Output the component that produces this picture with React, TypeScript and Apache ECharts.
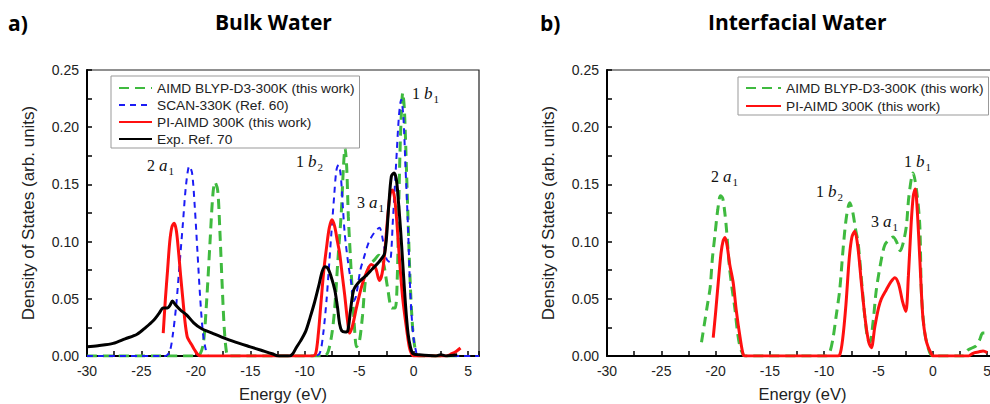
import React, { useEffect, useRef } from 'react';
import * as echarts from 'echarts';

// ---------- data (Energy eV, DOS arb. units) ----------
const bulkBlyp: [number, number][] = [
  [-30, 0], [-20, 0], [-19.6, 0.002], [-19.3, 0.012], [-19.0, 0.05], [-18.7, 0.1], [-18.45, 0.14], [-18.25, 0.152],
  [-18.0, 0.145], [-17.8, 0.11], [-17.6, 0.065], [-17.4, 0.025], [-17.2, 0.004], [-17.0, 0],
  [-8.2, 0], [-7.85, 0.004], [-7.5, 0.02], [-7.25, 0.042], [-6.95, 0.085], [-6.65, 0.125], [-6.45, 0.165], [-6.3, 0.182],
  [-6.15, 0.165], [-6.0, 0.122], [-5.8, 0.085], [-5.6, 0.05], [-5.4, 0.02], [-5.25, 0.008], [-5.0, 0.012], [-4.7, 0.035],
  [-4.4, 0.068], [-4.0, 0.08], [-3.6, 0.084], [-3.2, 0.088], [-2.8, 0.082], [-2.4, 0.06], [-2.0, 0.042], [-1.7, 0.042],
  [-1.5, 0.07], [-1.35, 0.14], [-1.2, 0.195], [-1.0, 0.23], [-0.85, 0.215], [-0.65, 0.16], [-0.45, 0.1], [-0.3, 0.06],
  [-0.1, 0.025], [0.1, 0.008], [0.3, 0.001], [0.5, 0], [4.5, 0]
];

const bulkScan: [number, number][] = [
  [-30, 0], [-22.8, 0], [-22.4, 0.004], [-22.1, 0.02], [-21.8, 0.045], [-21.5, 0.08], [-21.2, 0.115], [-20.9, 0.15],
  [-20.6, 0.166], [-20.35, 0.16], [-20.1, 0.13], [-19.85, 0.09], [-19.6, 0.05], [-19.35, 0.02], [-19.1, 0.006], [-18.8, 0],
  [-9.0, 0], [-8.6, 0.003], [-8.3, 0.02], [-8.0, 0.049], [-7.8, 0.075], [-7.56, 0.107], [-7.3, 0.14], [-7.1, 0.162],
  [-6.9, 0.167], [-6.7, 0.158], [-6.5, 0.13], [-6.33, 0.107], [-6.0, 0.08], [-5.72, 0.063], [-5.5, 0.048], [-5.3, 0.052],
  [-4.9, 0.075], [-4.6, 0.085], [-4.1, 0.1], [-3.6, 0.108], [-3.15, 0.112], [-2.8, 0.1], [-2.5, 0.085], [-2.2, 0.082],
  [-1.9, 0.12], [-1.6, 0.17], [-1.35, 0.21], [-1.15, 0.224], [-0.95, 0.21], [-0.75, 0.165], [-0.52, 0.113], [-0.35, 0.065],
  [-0.2, 0.037], [0, 0.015], [0.2, 0.005], [0.4, 0], [6, 0]
];

const bulkPiAimd: [number, number][] = [
  [-23.0, 0.02], [-22.8, 0.05], [-22.6, 0.075], [-22.4, 0.1], [-22.2, 0.113], [-22.0, 0.116], [-21.8, 0.11], [-21.6, 0.092],
  [-21.4, 0.07], [-21.2, 0.05], [-21.0, 0.03], [-20.8, 0.017], [-20.6, 0.013], [-20.4, 0.01], [-20.1, 0.005], [-19.8, 0.001],
  [-19.5, 0], [-9.3, 0], [-9.0, 0.002], [-8.75, 0.02], [-8.5, 0.048], [-8.25, 0.075], [-8.0, 0.095], [-7.75, 0.112],
  [-7.5, 0.119], [-7.25, 0.113], [-7.0, 0.1], [-6.8, 0.09], [-6.55, 0.07], [-6.33, 0.053], [-6.1, 0.033], [-5.87, 0.02],
  [-5.6, 0.027], [-5.26, 0.042], [-4.8, 0.06], [-4.34, 0.073], [-3.9, 0.08], [-3.5, 0.077], [-3.15, 0.066], [-2.9, 0.072],
  [-2.66, 0.09], [-2.4, 0.12], [-2.15, 0.142], [-1.95, 0.145], [-1.75, 0.138], [-1.55, 0.118], [-1.3, 0.084], [-1.0, 0.05],
  [-0.67, 0.025], [-0.4, 0.008], [-0.2, 0.002], [0, 0], [3.0, 0], [3.5, 0.002], [3.9, 0.004], [4.3, 0.007]
];

const bulkExp: [number, number][] = [
  [-30, 0.008], [-29, 0.009], [-27.6, 0.011], [-26.5, 0.015], [-25.4, 0.019], [-24.6, 0.025], [-23.9, 0.031], [-23.4, 0.037],
  [-23.0, 0.042], [-22.6, 0.042], [-22.4, 0.044], [-22.15, 0.048], [-21.9, 0.045], [-21.4, 0.04], [-20.86, 0.036],
  [-20.2, 0.029], [-19.5, 0.024], [-18.5, 0.02], [-17.2, 0.015], [-16, 0.011], [-15, 0.008], [-14, 0.005], [-13, 0.002],
  [-12.4, 0], [-11.4, 0], [-11.1, 0.002], [-10.8, 0.007], [-10.4, 0.013], [-9.9, 0.022], [-9.5, 0.034], [-9.1, 0.047],
  [-8.7, 0.062], [-8.4, 0.074], [-8.15, 0.078], [-7.9, 0.077], [-7.6, 0.07], [-7.25, 0.058], [-7.0, 0.043], [-6.8, 0.028],
  [-6.6, 0.022], [-6.3, 0.021], [-6.05, 0.022], [-5.8, 0.04], [-5.5, 0.058], [-5.0, 0.065], [-4.4, 0.07], [-3.8, 0.076],
  [-3.2, 0.082], [-2.66, 0.09], [-2.3, 0.13], [-2.05, 0.157], [-1.8, 0.16], [-1.6, 0.155], [-1.44, 0.14], [-1.2, 0.11],
  [-0.98, 0.078], [-0.75, 0.045], [-0.52, 0.02], [-0.3, 0.008], [-0.06, 0.002], [0.5, 0.001], [2, 0], [2.5, 0.001],
  [3, 0], [4, 0.001]
];

const interBlyp: [number, number][] = [
  [-21.3, 0.012], [-21.0, 0.03], [-20.75, 0.045], [-20.5, 0.06], [-20.3, 0.085], [-20.07, 0.105], [-19.8, 0.128],
  [-19.55, 0.14], [-19.35, 0.138], [-19.15, 0.125], [-19.0, 0.111], [-18.75, 0.08], [-18.5, 0.06], [-18.22, 0.041],
  [-18.0, 0.022], [-17.8, 0.01], [-17.6, 0.004], [-17.3, 0], [-9.8, 0], [-9.5, 0.003], [-9.2, 0.015], [-8.9, 0.035],
  [-8.57, 0.058], [-8.25, 0.095], [-7.95, 0.122], [-7.65, 0.134], [-7.4, 0.127], [-7.1, 0.11], [-6.88, 0.099], [-6.6, 0.07],
  [-6.27, 0.035], [-6.0, 0.015], [-5.8, 0.012], [-5.5, 0.03], [-5.2, 0.058], [-4.73, 0.085], [-4.42, 0.097], [-4.0, 0.102],
  [-3.66, 0.104], [-3.35, 0.1], [-3.0, 0.092], [-2.7, 0.1], [-2.43, 0.114], [-2.2, 0.14], [-1.82, 0.16], [-1.5, 0.145],
  [-1.2, 0.114], [-1.05, 0.055], [-0.74, 0.02], [-0.29, 0.003], [0, 0], [2.8, 0], [3.2, 0.005], [3.6, 0.007], [4.0, 0.009],
  [4.3, 0.014], [4.6, 0.02], [4.9, 0.02]
];

const interPiAimd: [number, number][] = [
  [-20.22, 0.016], [-20.0, 0.038], [-19.76, 0.064], [-19.5, 0.09], [-19.3, 0.101], [-19.14, 0.1035], [-18.95, 0.097],
  [-18.7, 0.08], [-18.38, 0.064], [-18.1, 0.04], [-17.76, 0.017], [-17.45, 0.001], [-17.2, 0], [-8.9, 0], [-8.57, 0.001],
  [-8.3, 0.015], [-8.0, 0.045], [-7.7, 0.085], [-7.45, 0.104], [-7.19, 0.109], [-6.9, 0.095], [-6.58, 0.064], [-6.2, 0.03],
  [-5.9, 0.012], [-5.66, 0.0073], [-5.35, 0.025], [-5.0, 0.042], [-4.74, 0.05], [-4.28, 0.058], [-3.85, 0.065], [-3.5, 0.0685],
  [-3.15, 0.063], [-2.8, 0.048], [-2.49, 0.039], [-2.25, 0.07], [-2.0, 0.115], [-1.8, 0.14], [-1.62, 0.146], [-1.45, 0.13],
  [-1.2, 0.085], [-1.05, 0.055], [-0.9, 0.032], [-0.65, 0.015], [-0.44, 0.008], [-0.14, 0.002], [0, 0], [3.3, 0],
  [3.55, 0.0015], [3.85, 0.003], [4.2, 0.0035], [4.62, 0.0044], [5.0, 0.003]
];

const xTickValues = [-30, -25, -20, -15, -10, -5, 0, 5];
const yTickValues = [0, 0.05, 0.1, 0.15, 0.2, 0.25];

const nameBlyp = 'AIMD BLYP-D3-300K (this work)';
const nameScan = 'SCAN-330K (Ref. 60)';
const namePi = 'PI-AIMD 300K (this work)';
const nameExp = 'Exp. Ref. 70';

const leftAnnotations = [
  { text: '{n|2 }{i|a}{s|1}', left: 147, top: 157 },
  { text: '{n|1 }{i|b}{s|2}', left: 296, top: 153 },
  { text: '{n|3 }{i|a}{s|1}', left: 357, top: 194 },
  { text: '{n|1 }{i|b}{s|1}', left: 412, top: 85 }
];
const rightAnnotations = [
  { text: '{n|2 }{i|a}{s|1}', left: 711, top: 168 },
  { text: '{n|1 }{i|b}{s|2}', left: 816, top: 183 },
  { text: '{n|3 }{i|a}{s|1}', left: 871, top: 213 },
  { text: '{n|1 }{i|b}{s|1}', left: 904, top: 153 }
];

const GREEN = '#3fba3f';
const BLUE = '#1c1cf5';
const RED = '#ff1010';
const BLACK = '#000000';

const sans = 'Liberation Sans, Arial, sans-serif';
const serif = 'Liberation Serif, DejaVu Serif, serif';

function xAxisDef(gridIndex: number) {
  return {
    type: 'value' as const,
    gridIndex,
    min: -30,
    max: 6,
    interval: 2.5,
    name: 'Energy (eV)',
    nameLocation: 'middle' as const,
    nameGap: 29,
    nameTextStyle: { fontFamily: sans, fontSize: 16.5, color: '#222' },
    axisLine: { show: true, onZero: false, lineStyle: { color: '#000', width: 2 } },
    axisTick: { show: true, inside: true, length: 5, lineStyle: { color: '#000', width: 1.5 } },
    axisLabel: {
      fontFamily: sans,
      fontSize: 14,
      color: '#222',
      margin: 8,
      formatter: (v: number) => (xTickValues.some((t) => Math.abs(t - v) < 1e-9) ? String(v) : '')
    },
    splitLine: { show: false }
  };
}

function yAxisDef(gridIndex: number) {
  return {
    type: 'value' as const,
    gridIndex,
    min: 0,
    max: 0.25,
    interval: 0.025,
    name: 'Density of States (arb. units)',
    nameLocation: 'middle' as const,
    nameGap: 50,
    nameTextStyle: { fontFamily: sans, fontSize: 17, color: '#222' },
    axisLine: { show: true, onZero: false, lineStyle: { color: '#000', width: 2 } },
    axisTick: { show: true, inside: true, length: 5, lineStyle: { color: '#000', width: 1.5 } },
    axisLabel: {
      fontFamily: sans,
      fontSize: 14,
      color: '#222',
      margin: 8,
      formatter: (v: number) => (yTickValues.some((t) => Math.abs(t - v) < 1e-9) ? v.toFixed(2) : '')
    },
    splitLine: { show: false }
  };
}

function lineSeries(name: string, data: [number, number][], idx: number, color: string, width: number, type: any, z: number) {
  return {
    name,
    type: 'line' as const,
    xAxisIndex: idx,
    yAxisIndex: idx,
    data,
    symbol: 'none',
    showSymbol: false,
    smooth: 0.3,
    z,
    lineStyle: { color, width, type },
    itemStyle: { color }
  };
}

const richStyle = {
  n: { fontFamily: serif, fontSize: 16, color: '#111', verticalAlign: 'top' },
  i: { fontFamily: serif, fontSize: 17, fontStyle: 'italic', color: '#111', verticalAlign: 'top' },
  s: { fontFamily: serif, fontSize: 11, color: '#111', verticalAlign: 'top', padding: [8, 0, 0, 1] }
};

const legendCommon = {
  orient: 'vertical',
  borderColor: '#999',
  borderWidth: 1,
  backgroundColor: '#fff',
  selectedMode: false,
  itemHeight: 10,
  itemStyle: { opacity: 0 },
  textStyle: { fontFamily: sans, fontSize: 13.7, color: '#222' }
};

export default function App() {
  const ref = useRef<HTMLDivElement>(null);
  useEffect(() => {
    if (!ref.current) return;
    const chart = echarts.init(ref.current, undefined, { renderer: 'svg' });
    const annotations = [...leftAnnotations, ...rightAnnotations].map((a) => ({
      type: 'text',
      left: a.left,
      top: a.top,
      z: 100,
      style: { text: a.text, rich: richStyle, fill: '#111' }
    }));
    chart.setOption({
      animation: false,
      backgroundColor: '#fff',
      grid: [
        { left: 87, top: 70, width: 392, height: 286, show: true, borderColor: '#222', borderWidth: 1.2, backgroundColor: 'transparent', outerBoundsMode: 'none', containLabel: false },
        { left: 607, top: 70, width: 391, height: 286, show: true, borderColor: '#222', borderWidth: 1.2, backgroundColor: 'transparent', outerBoundsMode: 'none', containLabel: false }
      ],
      xAxis: [xAxisDef(0), xAxisDef(1)],
      yAxis: [yAxisDef(0), yAxisDef(1)],
      legend: [
        {
          ...legendCommon,
          left: 111,
          top: 76,
          data: [nameBlyp, nameScan, namePi, nameExp],
          itemWidth: 33,
          itemGap: 3,
          padding: [5, 5, 2, 7]
        },
        {
          ...legendCommon,
          left: 738,
          top: 77,
          data: [nameBlyp, namePi],
          itemWidth: 35,
          itemGap: 4,
          padding: [4, 5, 2, 7]
        }
      ],
      series: [
        lineSeries(nameBlyp, bulkBlyp, 0, GREEN, 3, [10, 6], 2),
        lineSeries(nameScan, bulkScan, 0, BLUE, 2, [6, 5], 3),
        lineSeries(namePi, bulkPiAimd, 0, RED, 3, 'solid', 4),
        lineSeries(nameExp, bulkExp, 0, BLACK, 3, 'solid', 5),
        lineSeries(nameBlyp, interBlyp, 1, GREEN, 3, [10, 6], 2),
        lineSeries(namePi, interPiAimd, 1, RED, 3, 'solid', 4)
      ],
      graphic: [
        { type: 'text', left: 8, top: 12, style: { text: 'a)', font: 'bold 21px "Open Sans", sans-serif', fill: '#000' } },
        { type: 'text', left: 215, top: 11, style: { text: 'Bulk Water', font: 'bold 21px "Open Sans", sans-serif', fill: '#000' } },
        { type: 'text', left: 540, top: 12, style: { text: 'b)', font: 'bold 21px "Open Sans", sans-serif', fill: '#000' } },
        { type: 'text', left: 708, top: 11, style: { text: 'Interfacial Water', font: 'bold 21px "Open Sans", sans-serif', fill: '#000' } },
        ...annotations
      ]
    });
    return () => chart.dispose();
  }, []);
  return <div ref={ref} style={{ position: 'absolute', left: 0, top: 0, width: 990, height: 404 }} />;
}
